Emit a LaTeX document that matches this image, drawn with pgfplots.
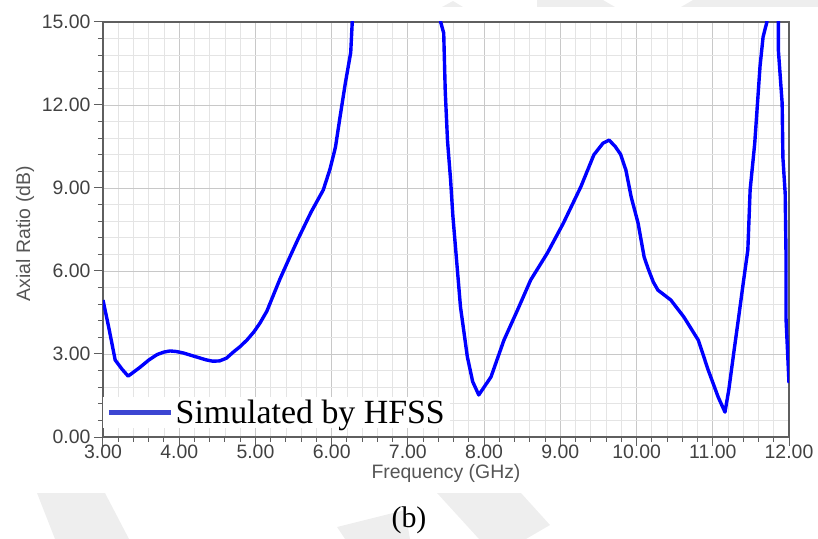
\documentclass[border=0pt]{standalone}
\usepackage{pgfplots}
\pgfplotsset{compat=1.18}
\usepackage{fontspec}
\setmainfont{Liberation Serif}
\newfontfamily\arial{Liberation Sans}
\definecolor{wm}{RGB}{238,238,238}
\definecolor{curve}{RGB}{0,0,255}
\definecolor{legblue}{RGB}{60,70,210}
\definecolor{axgray}{RGB}{95,95,95}
\definecolor{tickgray}{RGB}{65,65,65}
\definecolor{labgray}{RGB}{85,85,85}
\definecolor{majgrid}{RGB}{200,200,200}
\definecolor{mingrid}{RGB}{228,228,228}
\begin{document}
\begin{tikzpicture}
\path[use as bounding box] (-103bp,-102bp) rectangle (715bp,437bp);
% faint page watermark shapes
\fill[wm] (-66bp,-56bp) -- (2bp,-56bp) -- (26bp,-102bp) -- (-48bp,-102bp) -- cycle;
\fill[wm] (234bp,-90bp) -- (302bp,-73bp) -- (307bp,-102bp) -- (242bp,-102bp) -- cycle;
\fill[wm] (334bp,-56bp) -- (418bp,-56bp) -- (447bp,-88bp) -- (423bp,-102bp) -- (376bp,-102bp) -- cycle;
\fill[wm] (434bp,437bp) -- (500bp,437bp) -- (512bp,430bp) -- (434bp,430bp) -- cycle;
\fill[wm] (590bp,437bp) -- (715bp,437bp) -- (715bp,430bp) -- (578bp,430bp) -- cycle;
\fill[wm] (339bp,430bp) -- (350bp,436bp) -- (360bp,430bp) -- cycle;
\begin{axis}[
  at={(0,0)}, anchor=south west,
  scale only axis, width=686bp, height=415bp,
  xmin=3, xmax=12, ymin=0, ymax=15,
  xtick={3,4,...,12}, ytick={0,3,...,15},
  minor x tick num=4, minor y tick num=4,
  grid=both,
  major grid style={majgrid, line width=0.9bp},
  minor grid style={mingrid, line width=0.8bp},
  axis line style={axgray, line width=1.5bp},
  tick align=outside, tick pos=left,
  major tick length=9bp, minor tick length=5bp,
  every tick/.style={axgray, line width=1bp},
  /pgf/number format/assume math mode=true,
  tick label style={font=\arial\fontsize{19.5}{20}\selectfont, text=tickgray},
  xticklabel style={yshift=4.5bp, /pgf/number format/.cd, fixed, fixed zerofill, precision=2},
  yticklabel style={/pgf/number format/.cd, fixed, fixed zerofill, precision=2},
  xlabel={Frequency (GHz)},
  ylabel={Axial Ratio (dB)},
  xlabel style={at={(axis description cs:0.5,-0.089)}, anchor=center, font=\arial\fontsize{19.5}{20}\selectfont, text=labgray},
  ylabel style={at={(axis description cs:-0.1137,0.49)}, anchor=center, font=\arial\fontsize{19.5}{20}\selectfont, text=labgray},
  legend style={at={(axis description cs:0,0.0217)}, anchor=south west, draw=none, fill=white,
     inner xsep=3bp, inner ysep=1bp, font=\fontsize{34}{34}\selectfont, cells={anchor=west}},
  legend image code/.code={\draw[legblue, line width=5.5bp] (0bp,0bp) -- (62bp,0bp);},
]
\addplot[curve, line width=3.4bp, line join=round] coordinates {
(3.00,4.95) (3.08,3.90) (3.16,2.78) (3.25,2.45) (3.33,2.20) (3.49,2.53) (3.60,2.78)
(3.71,2.98) (3.80,3.07) (3.88,3.11) (3.96,3.09) (4.05,3.04) (4.23,2.89) (4.35,2.79) (4.44,2.74) (4.53,2.75) (4.62,2.85)
(4.71,3.07) (4.80,3.27) (4.89,3.51) (4.98,3.80) (5.06,4.12) (5.15,4.55) (5.32,5.70) (5.45,6.50) (5.56,7.16) (5.73,8.13)
(5.89,8.93) (5.98,9.70) (6.05,10.48) (6.11,11.57) (6.18,12.80) (6.25,13.90) (6.27,15.00)
(6.285,16.5) (7.425,16.5)
(7.43,15.00) (7.47,14.60) (7.49,12.50) (7.52,10.70) (7.56,9.30) (7.59,8.00) (7.69,4.70)
(7.78,2.90) (7.85,2.00) (7.93,1.52) (8.09,2.17) (8.26,3.50) (8.44,4.60) (8.61,5.67)
(8.83,6.65) (9.04,7.73) (9.27,9.05) (9.44,10.20) (9.56,10.62) (9.64,10.73)
(9.72,10.50) (9.79,10.22) (9.86,9.65) (9.93,8.67) (10.02,7.73) (10.10,6.50) (10.15,6.10)
(10.22,5.60) (10.28,5.31) (10.45,4.95) (10.62,4.34) (10.81,3.50) (10.94,2.42) (11.07,1.45) (11.16,0.90)
(11.21,1.70) (11.28,3.14) (11.34,4.34) (11.40,5.57) (11.46,6.76) (11.49,8.93) (11.55,10.60)
(11.59,12.20) (11.62,13.40) (11.66,14.46) (11.71,15.00)
(11.72,16.5) (11.855,16.5)
(11.86,15.00) (11.86,14.00) (11.91,12.07) (11.92,10.10) (11.95,8.80) (11.96,6.76)
(11.96,4.34) (12.00,1.95)
};
\addlegendentry{Simulated by HFSS}
\end{axis}
\node[font=\fontsize{30}{30}\selectfont] at (306bp,-83bp) {(b)};
\end{tikzpicture}
\end{document}
